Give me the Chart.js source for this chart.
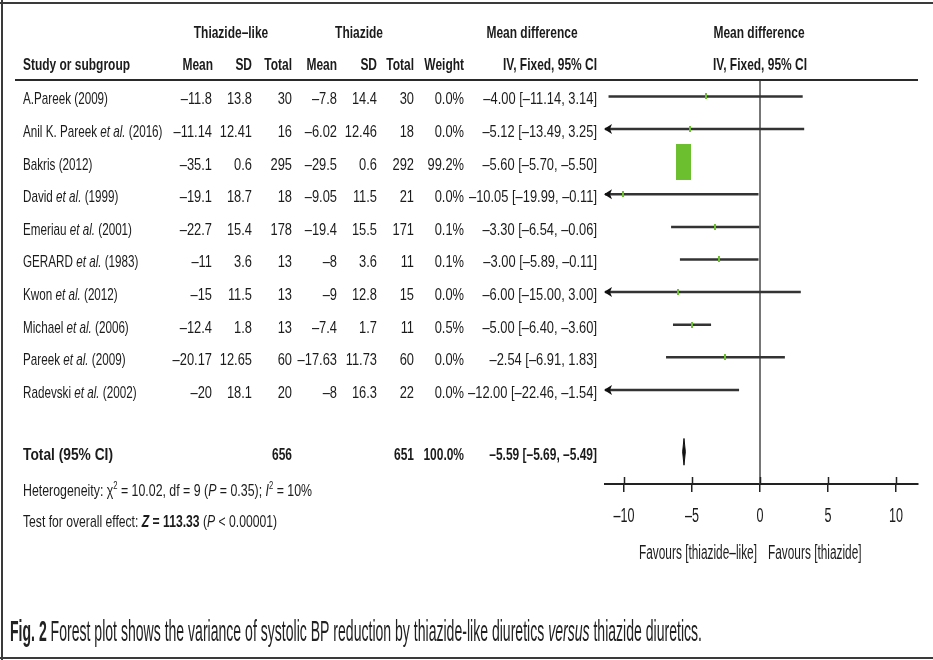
<!DOCTYPE html>
<html>
<head>
<meta charset="utf-8">
<script src="https://cdn.jsdelivr.net/npm/chart.js@4.4.1/dist/chart.umd.min.js"></script>
<style>
  html, body { margin: 0; padding: 0; background: #fff; }
  #wrap { position: relative; width: 933px; height: 660px; }
  canvas { display: block; }
</style>
</head>
<body>
<div id="wrap"><canvas id="forest" width="933" height="660"></canvas></div>
<script>
// ---- study data ----
const studies = [
  'A.Pareek (2009)', 'Anil K. Pareek et al. (2016)', 'Bakris (2012)', 'David et al. (1999)',
  'Emeriau et al. (2001)', 'GERARD et al. (1983)', 'Kwon et al. (2012)', 'Michael et al. (2006)',
  'Pareek et al. (2009)', 'Radevski et al. (2002)'
];
const likeMean = [-11.8, -11.14, -35.1, -19.1, -22.7, -11, -15, -12.4, -20.17, -20];
const likeSD   = [13.8, 12.41, 0.6, 18.7, 15.4, 3.6, 11.5, 1.8, 12.65, 18.1];
const likeN    = [30, 16, 295, 18, 178, 13, 13, 13, 60, 20];
const thzMean  = [-7.8, -6.02, -29.5, -9.05, -19.4, -8, -9, -7.4, -17.63, -8];
const thzSD    = [14.4, 12.46, 0.6, 11.5, 15.5, 3.6, 12.8, 1.7, 11.73, 16.3];
const thzN     = [30, 18, 292, 21, 171, 11, 15, 11, 60, 22];
const weights  = [0.0, 0.0, 99.2, 0.0, 0.1, 0.1, 0.0, 0.5, 0.0, 0.0];
const meanDiff = [-4.00, -5.12, -5.60, -10.05, -3.30, -3.00, -6.00, -5.00, -2.54, -12.00];
const ciLow    = [-11.14, -13.49, -5.70, -19.99, -6.54, -5.89, -15.00, -6.40, -6.91, -22.46];
const ciHigh   = [3.14, 3.25, -5.50, -0.11, -0.06, -0.11, 3.00, -3.60, 1.83, -1.54];

// pooled result
const totalLikeN = 656;
const totalThzN = 651;
const totalWeight = 100.0;
const totalMD = -5.59;
const totalLow = -5.69;
const totalHigh = -5.49;
const hetChi2 = '10.02', hetDf = '9', hetP = '0.35', hetI2 = '10';
const overallZ = '113.33', overallP = '0.00001';

// axis ticks
const tickValues = [-10, -5, 0, 5, 10];
const tickLabels = ['–10', '–5', '0', '5', '10'];

// ---- layout constants ----
const X_MIN = -11.40, X_MAX = 11.62;
const Y_MIN = -0.506, Y_MAX = 11.887;
const TOTAL_ROW = 10.9;
const AXIS_H = 40;
const BASE = 17;

// ---- fonts ----
function hasFont(name) {
  const c = document.createElement('canvas').getContext('2d');
  const s = 'mmmmmmmmmmlli0123456789WwQq';
  let diff = false;
  for (const base of ['monospace', 'serif']) {
    c.font = '40px ' + base; const a = c.measureText(s).width;
    c.font = '40px "' + name + '", ' + base; const b = c.measureText(s).width;
    if (a !== b) diff = true;
  }
  return diff;
}
const FAMILY = ['Liberation Sans Narrow', 'Liberation Sans', 'Arimo'].find(hasFont) || 'sans-serif';
const FONT = '"' + FAMILY + '", "Liberation Sans", Arial, sans-serif';

function fontStr(size, b, i) { return (i ? 'italic ' : '') + (b ? 'bold ' : '') + size + 'px ' + FONT; }

const mctx = document.createElement('canvas').getContext('2d');
function segWidth(segs, size) {
  let w = 0;
  for (const s of segs) {
    mctx.font = fontStr(s.sup ? size * 0.62 : size, s.b, s.i);
    w += mctx.measureText(s.t).width;
  }
  return w;
}
function fitScale(segs, size, target) { return target / segWidth(segs, size); }

const dash = v => String(v).replace(/-/g, '–');
const f2 = v => dash(v.toFixed(2));

const hetSegs = [
  { t: 'Heterogeneity: ' }, { t: 'χ' }, { t: '2', sup: true },
  { t: ' = ' + hetChi2 + ', df = ' + hetDf + ' (' }, { t: 'P', i: true },
  { t: ' = ' + hetP + '); ' }, { t: 'I', i: true }, { t: '2', sup: true },
  { t: ' = ' + hetI2 + '%' }
];
const testSegs = [
  { t: 'Test for overall effect: ' }, { t: 'Z', i: true, b: true },
  { t: ' = ' + overallZ, b: true }, { t: ' (' }, { t: 'P', i: true },
  { t: ' < ' + overallP + ')' }
];
const captionSegs = [
  { t: 'Fig. 2', b: true },
  { t: ' Forest plot shows the variance of systolic BP reduction by thiazide-like diuretics ' },
  { t: 'versus', i: true },
  { t: ' thiazide diuretics.' }
];

const SX_REG   = fitScale([{ t: 'A.Pareek (2009)' }], BASE, 85);
const SX_NUM   = fitScale([{ t: '–10.05 [–19.99, –0.11]' }], BASE, 128);
const SX_BOLD  = fitScale([{ t: 'Study or subgroup', b: true }], BASE, 107);
const SX_TOTAL = fitScale([{ t: 'Total (95% CI)', b: true }], BASE, 90);
const SX_HET   = fitScale(hetSegs, BASE, 289);
const SX_TEST  = fitScale(testSegs, BASE, 254);
const SX_BIG   = fitScale([{ t: 'Favours [thiazide–like]' }], 20, 118);
const SX_TICK  = fitScale([{ t: '–10' }], 20, 21);
const SX_CAP   = fitScale(captionSegs, 29, 692);

function drawSegs(ctx, segs, x, y, opt) {
  const size = opt.size || BASE, sx = opt.sx || 1, align = opt.align || 'left';
  const w = segWidth(segs, size) * sx;
  let cx = align === 'left' ? x : align === 'right' ? x - w : x - w / 2;
  ctx.save();
  ctx.fillStyle = opt.color || '#1b1b1b';
  ctx.textBaseline = 'alphabetic';
  ctx.textAlign = 'left';
  for (const s of segs) {
    const fs = s.sup ? size * 0.62 : size;
    ctx.font = fontStr(fs, s.b || opt.bold, s.i);
    const sw = ctx.measureText(s.t).width;
    ctx.save();
    ctx.translate(cx, y - (s.sup ? size * 0.42 : 0));
    ctx.scale(sx, 1);
    ctx.fillText(s.t, 0, 0);
    ctx.restore();
    cx += sw * sx;
  }
  ctx.restore();
}
function txt(ctx, t, x, y, align, bold, sx, size) {
  drawSegs(ctx, [{ t: t, b: bold }], x, y, { align: align, size: size || BASE, sx: sx || (bold ? SX_BOLD : SX_REG) });
}

function labelSegs(name) {
  const k = name.indexOf('et al.');
  if (k < 0) return [{ t: name }];
  return [{ t: name.slice(0, k) }, { t: 'et al.', i: true }, { t: name.slice(k + 6) }];
}

// marker images sized by study weight
function markerFor(w) {
  const r = Math.sqrt(w / 99.2);
  const c = document.createElement('canvas');
  c.width = Math.max(2, Math.round(15 * r));
  c.height = Math.max(6, Math.round(36 * r));
  const g = c.getContext('2d');
  g.fillStyle = '#6cbf2f';
  g.fillRect(0, 0, c.width, c.height);
  return c;
}

// ---- table, frame and annotations ----
const tablePlugin = {
  id: 'forestTable',
  afterDraw(chart) {
    const ctx = chart.ctx;
    const ys = chart.scales.y, xs = chart.scales.x;
    const area = chart.chartArea;

    // frame
    ctx.save();
    ctx.strokeStyle = '#3a3a3a';
    ctx.lineWidth = 2;
    ctx.beginPath();
    ctx.moveTo(0, 3); ctx.lineTo(933, 3);
    ctx.moveTo(2, 0); ctx.lineTo(2, 660);
    ctx.moveTo(0, 658); ctx.lineTo(933, 658);
    ctx.stroke();
    // header rule
    ctx.strokeStyle = '#2a2a2a';
    ctx.beginPath();
    ctx.moveTo(15, 80); ctx.lineTo(918, 80);
    ctx.stroke();
    ctx.restore();

    // headers
    txt(ctx, 'Thiazide–like', 231, 38, 'center', true);
    txt(ctx, 'Thiazide', 359, 38, 'center', true);
    txt(ctx, 'Mean difference', 532, 38, 'center', true);
    txt(ctx, 'Mean difference', 759, 38, 'center', true);
    txt(ctx, 'Study or subgroup', 23, 70, 'left', true);
    txt(ctx, 'Mean', 213, 70, 'right', true);
    txt(ctx, 'SD', 252, 70, 'right', true);
    txt(ctx, 'Total', 292, 70, 'right', true);
    txt(ctx, 'Mean', 337, 70, 'right', true);
    txt(ctx, 'SD', 377, 70, 'right', true);
    txt(ctx, 'Total', 414, 70, 'right', true);
    txt(ctx, 'Weight', 464, 70, 'right', true);
    txt(ctx, 'IV, Fixed, 95% CI', 597, 70, 'right', true);
    txt(ctx, 'IV, Fixed, 95% CI', 760, 70, 'center', true);

    // study rows
    studies.forEach((name, i) => {
      const y = ys.getPixelForValue(i) + 8;
      drawSegs(ctx, labelSegs(name), 23, y, { sx: SX_REG });
      txt(ctx, dash(likeMean[i]), 212, y, 'right', false, SX_NUM);
      txt(ctx, String(likeSD[i]), 252, y, 'right', false, SX_NUM);
      txt(ctx, String(likeN[i]), 292, y, 'right', false, SX_NUM);
      txt(ctx, dash(thzMean[i]), 337, y, 'right', false, SX_NUM);
      txt(ctx, String(thzSD[i]), 377, y, 'right', false, SX_NUM);
      txt(ctx, String(thzN[i]), 414, y, 'right', false, SX_NUM);
      txt(ctx, weights[i].toFixed(1) + '%', 464, y, 'right', false, SX_NUM);
      txt(ctx, f2(meanDiff[i]) + ' [' + f2(ciLow[i]) + ', ' + f2(ciHigh[i]) + ']', 597, y, 'right', false, SX_NUM);
    });

    // total row
    const ty = ys.getPixelForValue(TOTAL_ROW) + 8;
    txt(ctx, 'Total (95% CI)', 23, ty, 'left', true, SX_TOTAL);
    txt(ctx, String(totalLikeN), 292, ty, 'right', true);
    txt(ctx, String(totalThzN), 414, ty, 'right', true);
    txt(ctx, totalWeight.toFixed(1) + '%', 464, ty, 'right', true);
    txt(ctx, f2(totalMD) + ' [' + f2(totalLow) + ', ' + f2(totalHigh) + ']', 597, ty, 'right', true);

    drawSegs(ctx, hetSegs, 23, 496, { sx: SX_HET });
    drawSegs(ctx, testSegs, 23, 527, { sx: SX_TEST });

    // arrowheads for intervals running past the axis
    ctx.save();
    ctx.fillStyle = '#111';
    studies.forEach((_, i) => {
      const y = ys.getPixelForValue(i);
      if (ciLow[i] < X_MIN) {
        const x = area.left - 1;
        ctx.beginPath();
        ctx.moveTo(x, y); ctx.lineTo(x + 8, y - 5); ctx.lineTo(x + 6, y); ctx.lineTo(x + 8, y + 5);
        ctx.closePath(); ctx.fill();
      }
      if (ciHigh[i] > X_MAX) {
        const x = area.right + 1;
        ctx.beginPath();
        ctx.moveTo(x, y); ctx.lineTo(x - 8, y - 5); ctx.lineTo(x - 6, y); ctx.lineTo(x - 8, y + 5);
        ctx.closePath(); ctx.fill();
      }
    });
    // upper half of the axis ticks
    ctx.strokeStyle = '#222';
    ctx.lineWidth = 1.5;
    ctx.beginPath();
    xs.ticks.forEach(t => {
      const px = Math.round(xs.getPixelForValue(t.value)) + 0.5;
      ctx.moveTo(px, area.bottom - 7); ctx.lineTo(px, area.bottom);
    });
    ctx.stroke();
    ctx.restore();

    // tick labels, placed on the x scale
    xs.ticks.forEach((t, k) => {
      txt(ctx, tickLabels[k], xs.getPixelForValue(t.value), 522, 'center', false, SX_TICK, 20);
    });

    // favours labels
    const zx = xs.getPixelForValue(0);
    txt(ctx, 'Favours [thiazide–like]', zx - 3, 559, 'right', false, SX_BIG, 20);
    txt(ctx, 'Favours [thiazide]', zx + 8, 559, 'left', false, SX_BIG, 20);

    // caption
    drawSegs(ctx, captionSegs, 10, 641, { size: 29, sx: SX_CAP, color: '#222' });
  }
};

// ---- datasets (lower order is drawn on top) ----
const datasets = [];
// line of no effect
datasets.push({
  type: 'line', order: 3, data: [{ x: 0, y: Y_MIN }, { x: 0, y: Y_MAX }],
  borderColor: '#4a4a4a', borderWidth: 1.5, pointRadius: 0, clip: 0
});
// confidence intervals
studies.forEach((_, i) => {
  datasets.push({
    type: 'line', order: 2, data: [{ x: ciLow[i], y: i }, { x: ciHigh[i], y: i }],
    borderColor: '#333', borderWidth: 2.5, pointRadius: 0, clip: 0
  });
});
// point estimates, sized by weight
datasets.push({
  type: 'scatter', order: 1,
  data: meanDiff.map((m, i) => ({ x: m, y: i })),
  pointStyle: weights.map(markerFor),
  pointRadius: 3, clip: 0
});
// pooled estimate diamond
datasets.push({
  type: 'line', order: 1,
  data: [
    { x: totalLow, y: TOTAL_ROW }, { x: totalMD, y: TOTAL_ROW - 0.41 },
    { x: totalHigh, y: TOTAL_ROW }, { x: totalMD, y: TOTAL_ROW + 0.41 },
    { x: totalLow, y: TOTAL_ROW }
  ],
  borderColor: '#111', backgroundColor: '#111', borderWidth: 1,
  pointRadius: 0, fill: 'shape', tension: 0, clip: 0
});

new Chart(document.getElementById('forest'), {
  type: 'line',
  data: { datasets: datasets },
  options: {
    responsive: false,
    animation: false,
    devicePixelRatio: 1,
    layout: { padding: { left: 605, right: 15, top: 80, bottom: 660 - 484 - AXIS_H } },
    scales: {
      x: {
        type: 'linear', min: X_MIN, max: X_MAX, position: 'bottom',
        border: { display: true, color: '#222', width: 2 },
        grid: { drawOnChartArea: false, drawTicks: true, tickLength: 8, color: '#222', lineWidth: 1.5 },
        ticks: { display: false },
        afterBuildTicks: s => { s.ticks = tickValues.map(v => ({ value: v })); },
        afterFit: s => { s.height = AXIS_H; }
      },
      y: { type: 'linear', display: false, reverse: true, min: Y_MIN, max: Y_MAX }
    },
    plugins: { legend: { display: false }, tooltip: { enabled: false } }
  },
  plugins: [tablePlugin]
});
</script>
</body>
</html>
